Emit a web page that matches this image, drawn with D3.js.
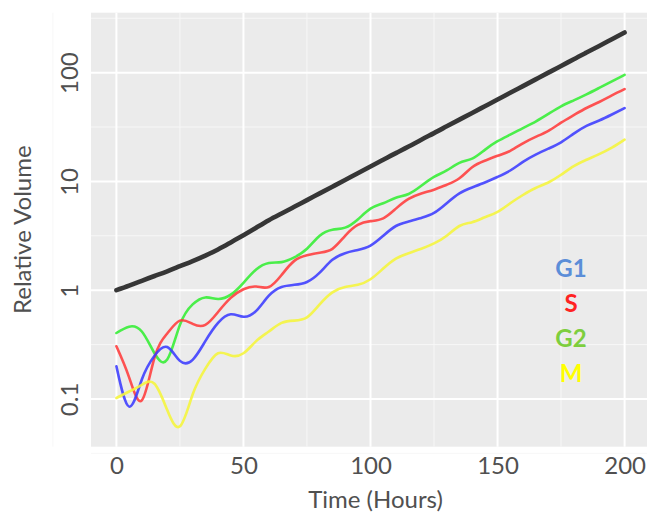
<!DOCTYPE html>
<html>
<head>
<meta charset="utf-8">
<script src="https://cdn.jsdelivr.net/npm/d3@7"></script>
<style>
  body { margin: 0; background: #fff; }
  svg { display: block; }
</style>
</head>
<body>
<script>
// time points (hours)
const hours = d3.range(0, 201, 5);

// relative volume of each phase
const total = [1.0, 1.1, 1.22, 1.35, 1.49, 1.66, 1.85, 2.08, 2.37, 2.75, 3.2, 3.75, 4.4,
  5.07, 5.84, 6.73, 7.76, 8.94, 10.3, 11.9, 13.7, 15.8, 18.2, 20.9, 24.2, 27.8, 32.1,
  37.0, 42.6, 49.1, 56.6, 65.3, 75.2, 86.7, 100, 115, 133, 153, 176, 203, 234];
const g1 = [0.2, 0.085, 0.151, 0.25, 0.3, 0.224, 0.229, 0.34, 0.5, 0.6, 0.57, 0.645, 0.89,
  1.07, 1.12, 1.19, 1.45, 1.9, 2.19, 2.34, 2.57, 3.16, 3.89, 4.27, 4.62, 5.13, 6.3,
  7.76, 8.8, 9.77, 11.0, 12.6, 15.1, 17.6, 20.0, 22.9, 27.5, 32.4, 36.3, 41.2, 47.2];
const s = [0.305, 0.158, 0.097, 0.24, 0.4, 0.525, 0.49, 0.48, 0.63, 0.85, 1.02, 1.08, 1.07,
  1.38, 1.86, 2.09, 2.21, 2.4, 3.16, 3.98, 4.31, 4.57, 5.62, 6.9, 7.76, 8.4, 9.33,
  10.7, 13.5, 15.5, 17.2, 19.1, 22.4, 25.7, 29.2, 34.7, 40.7, 47.3, 53.7, 61.7, 70.5];
const g2 = [0.404, 0.462, 0.417, 0.263, 0.23, 0.48, 0.74, 0.857, 0.83, 0.91, 1.17, 1.55, 1.78,
  1.81, 2.0, 2.4, 3.16, 3.59, 3.76, 4.47, 5.62, 6.3, 7.08, 7.67, 9.12, 11.0, 12.6,
  14.8, 16.2, 19.5, 23.4, 26.9, 30.9, 35.5, 41.7, 49.0, 55.6, 63.1, 72.4, 83.2, 95.5];
const m = [0.102, 0.117, 0.135, 0.138, 0.079, 0.056, 0.11, 0.19, 0.263, 0.251, 0.263, 0.34, 0.417,
  0.5, 0.525, 0.562, 0.74, 0.955, 1.07, 1.12, 1.26, 1.58, 1.95, 2.19, 2.4, 2.69, 3.16,
  3.89, 4.22, 4.68, 5.25, 6.3, 7.5, 8.7, 9.77, 11.5, 13.8, 15.8, 17.8, 20.4, 24.2];

const xTicks = [0, 50, 100, 150, 200];
const yTicks = [0.1, 1, 10, 100];
const labels = ["G1", "S", "G2", "M"];
const labelColors = ["#5b8ed8", "#ff2222", "#7dce3e", "#ffff00"];

const series = [
  { values: g2, color: "#33ee33", width: 2.6 },
  { values: s, color: "#ff3b3b", width: 2.6 },
  { values: g1, color: "#3b3bff", width: 2.6 },
  { values: m, color: "#f5f53a", width: 2.6 },
  { values: total, color: "#1c1c1c", width: 4.6 }
];

const width = 647, height = 514;
const panel = { left: 91, top: 12.7, right: 650, bottom: 446.7 };

const svg = d3.select("body").append("svg")
  .attr("width", width)
  .attr("height", height)
  .style("font-family", "Lato, 'Open Sans', sans-serif");

const x = d3.scaleLinear().domain([-10, 210]).range([panel.left, panel.right]);
const y = d3.scaleLog()
  .domain([Math.pow(10, -1.439), Math.pow(10, 2.551)])
  .range([panel.bottom, panel.top]);

svg.append("rect")
  .attr("x", panel.left).attr("y", panel.top)
  .attr("width", panel.right - panel.left)
  .attr("height", panel.bottom - panel.top)
  .attr("fill", "#ebebeb");

// minor grid: half way between majors
const xMinor = d3.range(-25, 226, 50);
const yMinor = yTicks.map(v => v * Math.sqrt(10)).concat([0.1 / Math.sqrt(10)]);

const grid = svg.append("g");
grid.selectAll(".xminor").data(xMinor).enter().append("line")
  .attr("x1", d => x(d)).attr("x2", d => x(d))
  .attr("y1", panel.top).attr("y2", panel.bottom)
  .attr("stroke", "#f7f7f7").attr("stroke-width", 1);
grid.selectAll(".yminor").data(yMinor).enter().append("line")
  .attr("y1", d => y(d)).attr("y2", d => y(d))
  .attr("x1", panel.left).attr("x2", panel.right)
  .attr("stroke", "#f7f7f7").attr("stroke-width", 1);
grid.selectAll(".xmajor").data(xTicks).enter().append("line")
  .attr("x1", d => x(d)).attr("x2", d => x(d))
  .attr("y1", panel.top).attr("y2", panel.bottom)
  .attr("stroke", "#fff").attr("stroke-width", 2);
grid.selectAll(".ymajor").data(yTicks).enter().append("line")
  .attr("y1", d => y(d)).attr("y2", d => y(d))
  .attr("x1", panel.left).attr("x2", panel.right)
  .attr("stroke", "#fff").attr("stroke-width", 2);

const line = d3.line()
  .x((d, i) => x(hours[i]))
  .y(d => y(d))
  .curve(d3.curveNatural);

svg.append("g").selectAll("path")
  .data(series)
  .enter()
  .append("path")
  .attr("d", d => line(d.values))
  .attr("fill", "none")
  .attr("stroke", d => d.color)
  .attr("stroke-width", d => d.width)
  .attr("stroke-opacity", 0.88)
  .attr("stroke-linecap", "round");

// axes (ticks hidden, ggplot style)
const xAxis = svg.append("g")
  .attr("transform", "translate(0," + panel.bottom + ")")
  .call(d3.axisBottom(x).tickValues(xTicks).tickSize(0).tickPadding(10).tickFormat(d3.format("d")));
xAxis.select(".domain").remove();
xAxis.selectAll("text")
  .attr("font-size", 24)
  .attr("font-family", "Lato, 'Open Sans', sans-serif")
  .attr("fill", "#505050");

const yAxis = svg.append("g")
  .attr("transform", "translate(" + panel.left + ",0)")
  .call(d3.axisLeft(y).tickValues(yTicks).tickSize(0).tickFormat(d => String(d)));
yAxis.select(".domain").remove();
yAxis.selectAll("text")
  .attr("font-size", 24)
  .attr("font-family", "Lato, 'Open Sans', sans-serif")
  .attr("fill", "#505050")
  .attr("text-anchor", "middle")
  .attr("transform", "rotate(-90)")
  .attr("x", 0)
  .attr("y", -13)
  .attr("dy", "0");

svg.append("text")
  .attr("x", (x(0) + x(200)) / 2 + 5)
  .attr("y", 508)
  .attr("text-anchor", "middle")
  .attr("font-size", 24)
  .attr("fill", "#505050")
  .text("Time (Hours)");

svg.append("text")
  .attr("transform", "translate(31," + ((panel.top + panel.bottom) / 2) + ") rotate(-90)")
  .attr("text-anchor", "middle")
  .attr("font-size", 24)
  .attr("fill", "#505050")
  .text("Relative Volume");

svg.append("g").selectAll("text")
  .data(labels)
  .enter()
  .append("text")
  .attr("x", 571)
  .attr("y", (d, i) => 277 + i * 35)
  .attr("text-anchor", "middle")
  .attr("font-size", 24)
  .attr("font-weight", "bold")
  .attr("fill", (d, i) => labelColors[i])
  .text(d => d);
</script>
</body>
</html>
